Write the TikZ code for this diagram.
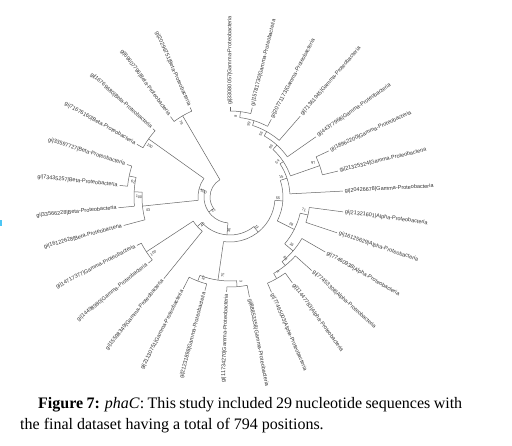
\documentclass[tikz,border=0pt]{standalone}
\usepackage{fontspec}
\setmainfont{Liberation Serif}
\newfontfamily\labfont{Liberation Sans}
\tikzset{
  br/.style={draw=black!60, line width=0.5pt},
  lab/.style={font=\labfont\fontsize{5.5}{6}\selectfont, text=black!80, inner sep=0.6pt},
  boot/.style={font=\labfont\fontsize{3.8}{4}\selectfont, text=black!80, inner sep=0pt},
  captext/.style={font=\fontsize{16}{19}\selectfont, anchor=base west, inner sep=0pt},
}
\newcommand\leafR[5]{%
  \pgfmathsetmacro\labR{#3+1.2}%
  \coordinate (#1) at (#2:#3);
  \draw[br] (#2:#4) -- (#1);
  \node[lab,anchor=west,rotate=#2] (#1L) at (#2:\labR) {#5};
}
\newcommand\leafL[5]{%
  \pgfmathsetmacro\labR{#3+1.2}%
  \pgfmathsetmacro\labA{#2-180}%
  \coordinate (#1) at (#2:#3);
  \draw[br] (#2:#4) -- (#1);
  \node[lab,anchor=east,rotate=\labA] (#1L) at (#2:\labR) {#5};
}
\newcommand\inode[6]{%
  \pgfmathsetmacro\midA{(#3+#4)/2}%
  \coordinate (#1) at (\midA:#2);
  \draw[br] (#3:#2) arc[start angle=#3,end angle=#4,radius=#2];
  \draw[br] (\midA:#5) -- (#1);
  \pgfmathsetmacro\bootA{\midA+3}%
  \pgfmathsetmacro\bootR{#2-5}%
  \pgfmathsetmacro\bootM{mod(\midA,360)}%
  \pgfmathsetmacro\bootRot{(\bootM>90 && \bootM<270) ? \midA-180 : \midA}%
  \node[boot,rotate=\bootRot] (#1b) at (\bootA:\bootR) {#6};
}
\begin{document}
\begin{tikzpicture}[x=1pt,y=1pt]
\useasboundingbox (0,0) rectangle (512,445);
\fill[white] (0,0) rectangle (512,445);
\fill[cyan!70] (0,219) rectangle (1.5,225);
\begin{scope}[shift={(230,248)}]
% leaves
\leafL{lI}{114}{98}{94}{gi|20296751|Beta-Proteobacteria}
\leafL{lJ}{126.5}{100}{94}{gi|69607796|Beta-Proteobacteria}
\leafL{lK}{138.5}{103}{100}{gi|16769680|Beta-Proteobacteria}
\leafL{lL}{150.5}{107}{100}{gi|71676160|Beta-Proteobacteria}
\leafL{lM}{162.5}{108}{103}{gi|33597727|Beta-Proteobacteria}
\leafL{lN}{174}{111}{103}{gi|73435257|Beta-Proteobacteria}
\leafL{lO}{185.5}{112}{96}{gi|33566228|Beta-Proteobacteria}
\leafL{lP}{195}{110}{88}{gi|16122628|Beta-Proteobacteria}
\leafL{lQ}{207.5}{105}{100}{gi|14717377|Gamma-Proteobacteria}
\leafL{lR}{219}{105}{100}{gi|14498980|Gamma-Proteobacteria}
\leafL{lS}{231}{105}{44}{gi|15598349|Gamma-Proteobacteria}
\leafL{lT}{243}{103}{90}{gi|21130751|Gamma-Proteobacteria}
\leafL{lU}{255}{97}{90}{gi|21231898|Gamma-Proteobacteria}
\leafL{lV}{268}{95}{90}{gi|11734270|Gamma-Proteobacteria}
\leafR{lW}{281}{102}{90}{gi|88853358|Gamma-Proteobacteria}
\leafR{lX}{293.5}{104}{94}{gi|77465003|Alpha-Proteobacteria}
\leafR{lY}{306}{106}{94}{gi|11447783|Alpha-Proteobacteria}
\leafR{lZ}{318}{110}{88}{gi|77453308|Alpha-Proteobacteria}
\leafR{lAA}{330}{110}{83}{gi|77460938|Alpha-Proteobacteria}
\leafR{lAB}{341.5}{113}{80}{gi|16125629|Alpha-Proteobacteria}
\leafR{lAC}{352.5}{114}{80}{gi|21321601|Alpha-Proteobacteria}
\leafR{lA}{363}{113}{60}{gi|20426678|Gamma-Proteobacteria}
\leafR{lB}{373.5}{111}{95}{gi|21325324|Gamma-Proteobacteria}
\leafR{lC}{385}{109}{95}{gi|18962200|Gamma-Proteobacteria}
\leafR{lD}{395}{105}{70}{gi|44377968|Gamma-Proteobacteria}
\leafR{lE}{409}{107}{75}{gi|71361945|Gamma-Proteobacteria}
\leafR{lF}{422}{88}{80}{gi|20771173|Gamma-Proteobacteria}
\leafR{lG}{436}{92}{86}{gi|15781730|Gamma-Proteobacteria}
\leafR{lH}{450}{90}{86}{gi|33080057|Gamma-Proteobacteria}
% internal nodes
\inode{nIJ}{94}{114}{126.5}{20}{78}
\inode{nKL}{100}{138.5}{150.5}{32}{100}
\inode{nMN}{103}{162.5}{174}{96}{62}
\inode{nMNO}{96}{168.25}{185.5}{88}{100}
\inode{nMNOP}{88}{176.875}{195}{32}{43}
\inode{nKLP}{32}{144.5}{185.9375}{26}{100}
\inode{nQR}{100}{207.5}{219}{44}{100}
\inode{nQRS}{44}{213.25}{231}{38}{40}
\inode{nTU}{90}{243}{255}{84}{87}
\inode{nVW}{90}{268}{281}{84}{3}
\inode{nTUVW}{84}{249}{274.5}{45}{75}
\inode{nXY}{94}{293.5}{306}{88}{8}
\inode{nXYZ}{88}{299.75}{318}{83}{86}
\inode{nXYZAA}{83}{308.875}{330}{72}{16}
\inode{nABAC}{80}{341.5}{352.5}{72}{71}
\inode{nAlpha}{72}{319.4375}{347}{53}{28}
\inode{nBC}{95}{373.5}{385}{64}{97}
\inode{c9}{86}{436}{450}{80}{8}
\inode{c8}{80}{422}{443}{75}{99}
\inode{c7}{75}{409}{432.5}{70}{56}
\inode{c6}{70}{395}{420.75}{64}{96}
\inode{c5}{64}{379.25}{407.875}{60}{54}
\inode{c4}{60}{363}{393.5625}{53}{15}
\inode{c3}{53}{333.21875}{378.28125}{45}{55}
\inode{c2}{45}{261.75}{355.75}{38}{13}
\inode{c1b}{38}{222.125}{308.75}{26}{36}
\inode{c1}{26}{165.21875}{265.4375}{20}{21}
\coordinate (root) at (167.8:20);
\draw[br] (120.25:20) arc[start angle=120.25,end angle=215.328,radius=20];
\end{scope}
% caption
\node[captext] (cap1) at (38,36) {\makebox[424pt][s]{\textbf{Figure 7:} \textit{phaC}: This study included 29 nucleotide sequences with}};
\node[captext] (cap2) at (20,16) {the final dataset having a total of 794 positions.};
\end{tikzpicture}
\end{document}
